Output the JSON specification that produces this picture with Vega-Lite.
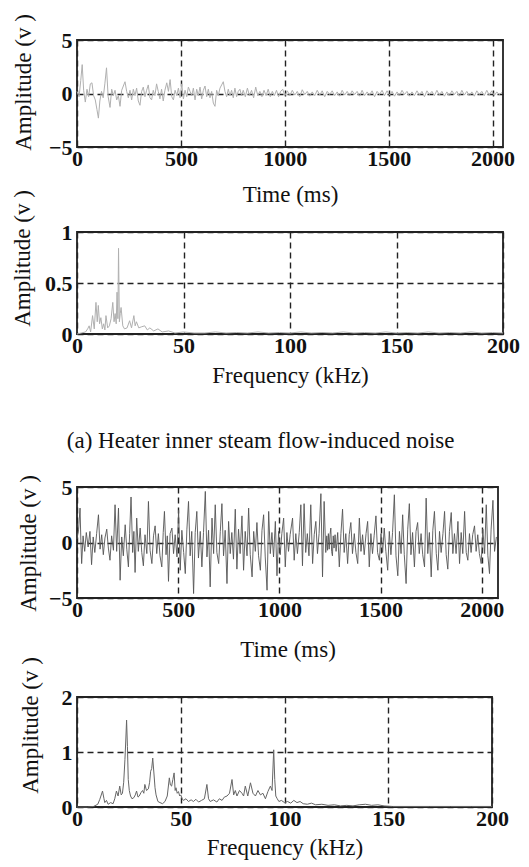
{
  "$schema": "https://vega.github.io/schema/vega-lite/v6.json",
  "background": "white",
  "padding": {"left": 10, "top": 12, "right": 5, "bottom": 5},
  "bounds": "flush",
  "spacing": 447,
  "config": {
    "font": "Liberation Serif",
    "view": {"stroke": "#222", "strokeWidth": 1.8},
    "axis": {
      "labelFont": "Liberation Serif", "labelFontSize": 22, "labelFontWeight": "bold", "labelColor": "#111",
      "titleFont": "Liberation Serif", "titleFontSize": 23, "titleFontWeight": "normal", "titleColor": "#111",
      "grid": true, "gridColor": "#222", "gridDash": [6, 4], "gridWidth": 1.4, "gridOpacity": 1,
      "ticks": false, "tickSize": 0, "domain": false, "labelOverlap": false, "labelFlush": false, "zindex": 1
    },
    "axisX": {"labelPadding": 1},
    "axisY": {"labelPadding": 5}
  },
  "datasets": {
    "t1": [
      {"t":0,"v":0.2},{"t":10,"v":-0.3},{"t":18,"v":1.2},{"t":25,"v":2.7},{"t":32,"v":0.3},{"t":40,"v":-0.8},{"t":48,"v":0.4},{"t":56,"v":-0.3},{"t":64,"v":0.9},{"t":72,"v":1.0},
      {"t":80,"v":-0.2},{"t":88,"v":-0.6},{"t":96,"v":-1.5},{"t":103,"v":-2.3},{"t":110,"v":-0.7},{"t":118,"v":0.2},{"t":126,"v":-0.4},{"t":134,"v":0.9},{"t":142,"v":2.4},{"t":150,"v":-0.3},
      {"t":159,"v":-1.3},{"t":167,"v":0.4},{"t":175,"v":-0.2},{"t":183,"v":0.3},{"t":191,"v":-0.6},{"t":199,"v":-0.2},{"t":207,"v":-1.2},{"t":215,"v":0.3},{"t":223,"v":0.7},{"t":231,"v":1.1},
      {"t":239,"v":0.2},{"t":247,"v":-0.4},{"t":255,"v":0.3},{"t":263,"v":-0.6},{"t":271,"v":0.4},{"t":279,"v":-0.2},{"t":287,"v":0.5},{"t":295,"v":-0.7},{"t":303,"v":-1.1},{"t":311,"v":0.2},
      {"t":319,"v":0.6},{"t":327,"v":-0.3},{"t":335,"v":0.3},{"t":343,"v":0.8},{"t":351,"v":-0.4},{"t":359,"v":-0.6},{"t":367,"v":0.3},{"t":375,"v":-0.2},{"t":383,"v":0.9},{"t":391,"v":0.2},
      {"t":399,"v":-0.5},{"t":407,"v":0.4},{"t":415,"v":-0.7},{"t":423,"v":0.3},{"t":432,"v":1.0},{"t":440,"v":0.2},{"t":448,"v":1.3},{"t":456,"v":-0.3},{"t":464,"v":-0.6},{"t":472,"v":0.3},
      {"t":480,"v":-0.2},{"t":488,"v":0.5},{"t":496,"v":-0.4},{"t":504,"v":0.9},{"t":512,"v":-0.5},{"t":520,"v":0.3},{"t":528,"v":-0.3},{"t":536,"v":0.6},{"t":544,"v":0.2},{"t":552,"v":-0.2},
      {"t":560,"v":0.5},{"t":568,"v":-0.6},{"t":576,"v":0.4},{"t":584,"v":-0.2},{"t":592,"v":0.6},{"t":600,"v":-0.5},{"t":608,"v":0.3},{"t":616,"v":0.7},{"t":624,"v":-0.3},{"t":632,"v":0.4},
      {"t":640,"v":-0.4},{"t":648,"v":0.2},{"t":656,"v":-0.9},{"t":664,"v":-1.2},{"t":672,"v":0.3},{"t":680,"v":-0.2},{"t":688,"v":0.5},{"t":696,"v":0.8},{"t":704,"v":1.1},{"t":712,"v":0.2},
      {"t":720,"v":-0.3},{"t":728,"v":0.4},{"t":736,"v":-0.2},{"t":744,"v":0.3},{"t":752,"v":-0.4},{"t":760,"v":0.5},{"t":768,"v":-0.3},{"t":776,"v":0.2},{"t":784,"v":0.4},{"t":792,"v":-0.2},
      {"t":800,"v":0.3},{"t":810,"v":-0.3},{"t":820,"v":0.5},{"t":830,"v":-0.2},{"t":840,"v":0.3},{"t":850,"v":-0.4},{"t":860,"v":0.6},{"t":870,"v":-0.2},{"t":880,"v":0.2},{"t":890,"v":-0.3},
      {"t":900,"v":0.3},{"t":910,"v":-0.2},{"t":920,"v":0.4},{"t":930,"v":-0.3},{"t":940,"v":0.2},{"t":950,"v":-0.2},{"t":960,"v":0.3},{"t":970,"v":-0.3},{"t":980,"v":0.2},{"t":990,"v":0.4},
      {"t":1000,"v":-0.2},{"t":1012,"v":0.25},{"t":1024,"v":-0.2},{"t":1036,"v":0.3},{"t":1048,"v":-0.15},{"t":1060,"v":0.2},{"t":1072,"v":-0.3},{"t":1084,"v":0.35},{"t":1096,"v":-0.1},{"t":1108,"v":0.2},
      {"t":1120,"v":-0.25},{"t":1132,"v":0.15},{"t":1144,"v":-0.2},{"t":1156,"v":0.3},{"t":1168,"v":-0.15},{"t":1180,"v":0.25},{"t":1192,"v":-0.3},{"t":1204,"v":0.2},{"t":1216,"v":-0.1},{"t":1228,"v":0.25},
      {"t":1240,"v":-0.2},{"t":1252,"v":0.15},{"t":1264,"v":-0.25},{"t":1276,"v":0.3},{"t":1288,"v":-0.15},{"t":1300,"v":0.2},{"t":1312,"v":-0.2},{"t":1324,"v":0.25},{"t":1336,"v":-0.1},{"t":1348,"v":0.2},
      {"t":1360,"v":-0.25},{"t":1372,"v":0.3},{"t":1384,"v":-0.2},{"t":1396,"v":0.15},{"t":1408,"v":-0.15},{"t":1420,"v":0.25},{"t":1432,"v":-0.3},{"t":1444,"v":0.2},{"t":1456,"v":-0.1},{"t":1468,"v":0.3},
      {"t":1480,"v":-0.2},{"t":1492,"v":0.25},{"t":1504,"v":-0.15},{"t":1516,"v":0.2},{"t":1528,"v":-0.25},{"t":1540,"v":0.15},{"t":1552,"v":-0.2},{"t":1564,"v":0.3},{"t":1576,"v":-0.1},{"t":1588,"v":0.2},
      {"t":1600,"v":-0.25},{"t":1612,"v":0.15},{"t":1624,"v":-0.2},{"t":1636,"v":0.25},{"t":1648,"v":-0.15},{"t":1660,"v":0.2},{"t":1672,"v":-0.3},{"t":1684,"v":0.25},{"t":1696,"v":-0.1},{"t":1708,"v":0.2},
      {"t":1720,"v":-0.2},{"t":1732,"v":0.3},{"t":1744,"v":-0.15},{"t":1756,"v":0.2},{"t":1768,"v":-0.25},{"t":1780,"v":0.15},{"t":1792,"v":-0.2},{"t":1804,"v":0.25},{"t":1816,"v":-0.1},{"t":1828,"v":0.2},
      {"t":1840,"v":-0.25},{"t":1852,"v":0.3},{"t":1864,"v":-0.15},{"t":1876,"v":0.2},{"t":1888,"v":-0.2},{"t":1900,"v":0.15},{"t":1912,"v":-0.25},{"t":1924,"v":0.25},{"t":1936,"v":-0.1},{"t":1948,"v":0.2},
      {"t":1960,"v":-0.2},{"t":1972,"v":0.3},{"t":1984,"v":-0.15},{"t":1996,"v":0.25},{"t":2008,"v":-0.2},{"t":2020,"v":0.15},{"t":2032,"v":-0.1},{"t":2044,"v":0.1}
    ],
    "f1": [
      {"f":0,"v":0},{"f":2,"v":0.01},{"f":4,"v":0.02},{"f":5,"v":0.05},{"f":5.7,"v":0.08},{"f":6.4,"v":0.02},{"f":7.3,"v":0.18},{"f":8.1,"v":0.05},{"f":8.9,"v":0.31},{"f":9.5,"v":0.12},
      {"f":10,"v":0.28},{"f":10.6,"v":0.1},{"f":11.2,"v":0.16},{"f":11.9,"v":0.05},{"f":12.5,"v":0.1},{"f":13.1,"v":0.04},{"f":13.6,"v":0.18},{"f":14.4,"v":0.06},{"f":15.2,"v":0.08},{"f":16,"v":0.15},
      {"f":16.8,"v":0.31},{"f":17.4,"v":0.12},{"f":17.9,"v":0.2},{"f":18.4,"v":0.1},{"f":18.8,"v":0.41},{"f":19.2,"v":0.15},{"f":19.5,"v":0.84},{"f":19.9,"v":0.12},{"f":20.3,"v":0.2},{"f":20.7,"v":0.26},
      {"f":21.5,"v":0.08},{"f":22.3,"v":0.05},{"f":23.5,"v":0.06},{"f":24.7,"v":0.13},{"f":25.6,"v":0.06},{"f":26.7,"v":0.18},{"f":27.3,"v":0.08},{"f":27.9,"v":0.12},{"f":29,"v":0.06},{"f":30.2,"v":0.07},
      {"f":31.8,"v":0.08},{"f":33,"v":0.04},{"f":34.2,"v":0.06},{"f":36,"v":0.03},{"f":38,"v":0.05},{"f":40,"v":0.02},{"f":43,"v":0.03},{"f":46,"v":0.01},{"f":50,"v":0.02},{"f":55,"v":0.01},
      {"f":60,"v":0.01},{"f":65,"v":0.02},{"f":70,"v":0.01},{"f":75,"v":0.015},{"f":80,"v":0.01},{"f":85,"v":0.02},{"f":90,"v":0.01},{"f":95,"v":0.015},{"f":100,"v":0.01},{"f":105,"v":0.02},
      {"f":110,"v":0.01},{"f":115,"v":0.015},{"f":120,"v":0.01},{"f":125,"v":0.02},{"f":130,"v":0.01},{"f":135,"v":0.015},{"f":140,"v":0.01},{"f":145,"v":0.02},{"f":150,"v":0.01},{"f":155,"v":0.015},
      {"f":160,"v":0.01},{"f":165,"v":0.02},{"f":170,"v":0.01},{"f":175,"v":0.015},{"f":180,"v":0.01},{"f":185,"v":0.02},{"f":190,"v":0.01},{"f":195,"v":0.015},{"f":200,"v":0.01}
    ],
    "t2": [
      {"t":0,"v":0.3},{"t":8,"v":1.2},{"t":15,"v":3.1},{"t":19,"v":0.2},{"t":23,"v":-1.9},{"t":30,"v":0.6},{"t":38,"v":-0.8},{"t":46,"v":0.9},{"t":55,"v":-0.4},{"t":64,"v":1.0},
      {"t":72,"v":-2.0},{"t":80,"v":0.5},{"t":88,"v":-0.9},{"t":97,"v":0.8},{"t":106,"v":2.5},{"t":114,"v":-0.6},{"t":122,"v":0.7},{"t":130,"v":-1.1},{"t":138,"v":0.4},{"t":147,"v":1.2},
      {"t":155,"v":-0.5},{"t":163,"v":-1.6},{"t":171,"v":0.6},{"t":180,"v":-0.7},{"t":188,"v":3.4},{"t":196,"v":-0.8},{"t":205,"v":3.1},{"t":213,"v":-3.4},{"t":221,"v":0.5},{"t":229,"v":-1.2},
      {"t":238,"v":1.6},{"t":246,"v":-0.6},{"t":254,"v":-2.2},{"t":260,"v":0.8},{"t":267,"v":4.1},{"t":275,"v":-0.9},{"t":281,"v":1.0},{"t":287,"v":-2.7},{"t":295,"v":2.2},{"t":303,"v":-0.8},
      {"t":312,"v":1.3},{"t":320,"v":-0.9},{"t":328,"v":-2.1},{"t":336,"v":0.7},{"t":345,"v":-1.0},{"t":353,"v":3.7},{"t":361,"v":-0.7},{"t":370,"v":-1.9},{"t":378,"v":0.6},{"t":386,"v":1.5},
      {"t":394,"v":-1.0},{"t":402,"v":0.8},{"t":410,"v":-1.2},{"t":419,"v":-2.2},{"t":426,"v":0.9},{"t":432,"v":2.8},{"t":440,"v":-1.1},{"t":446,"v":0.6},{"t":452,"v":-3.5},{"t":460,"v":0.8},
      {"t":469,"v":1.3},{"t":477,"v":-1.0},{"t":485,"v":0.7},{"t":494,"v":-1.3},{"t":502,"v":2.9},{"t":510,"v":-2.5},{"t":518,"v":1.1},{"t":527,"v":-0.9},{"t":535,"v":-2.8},{"t":543,"v":1.2},
      {"t":551,"v":3.7},{"t":559,"v":-1.2},{"t":567,"v":1.0},{"t":576,"v":-4.6},{"t":584,"v":0.9},{"t":592,"v":2.8},{"t":600,"v":-1.4},{"t":609,"v":1.0},{"t":617,"v":-2.2},{"t":625,"v":0.9},
      {"t":634,"v":4.6},{"t":642,"v":-1.3},{"t":650,"v":1.1},{"t":658,"v":-4.0},{"t":667,"v":2.2},{"t":675,"v":-1.0},{"t":683,"v":3.4},{"t":691,"v":-0.9},{"t":700,"v":-1.9},{"t":708,"v":1.0},
      {"t":716,"v":3.5},{"t":724,"v":-1.2},{"t":732,"v":1.1},{"t":741,"v":-3.7},{"t":749,"v":1.9},{"t":757,"v":-1.0},{"t":765,"v":0.9},{"t":773,"v":-1.5},{"t":782,"v":3.0},{"t":790,"v":-2.4},
      {"t":798,"v":1.2},{"t":806,"v":-1.0},{"t":815,"v":2.4},{"t":823,"v":-2.5},{"t":831,"v":1.0},{"t":840,"v":-1.2},{"t":848,"v":3.1},{"t":856,"v":-1.1},{"t":865,"v":-3.1},{"t":873,"v":1.0},
      {"t":881,"v":-0.8},{"t":889,"v":1.8},{"t":897,"v":-1.2},{"t":906,"v":-2.5},{"t":914,"v":1.1},{"t":922,"v":2.5},{"t":930,"v":-1.3},{"t":939,"v":-4.3},{"t":947,"v":2.8},{"t":955,"v":-1.0},
      {"t":963,"v":0.9},{"t":971,"v":-1.3},{"t":980,"v":1.9},{"t":988,"v":-3.0},{"t":996,"v":1.0},{"t":1004,"v":-1.1},{"t":1012,"v":0.8},{"t":1021,"v":2.2},{"t":1029,"v":-2.2},{"t":1037,"v":0.9},
      {"t":1045,"v":-0.8},{"t":1053,"v":0.7},{"t":1065,"v":2.2},{"t":1073,"v":-1.6},{"t":1081,"v":0.8},{"t":1089,"v":-1.0},{"t":1098,"v":0.9},{"t":1106,"v":3.4},{"t":1114,"v":-2.1},{"t":1122,"v":3.5},
      {"t":1130,"v":-0.9},{"t":1138,"v":0.8},{"t":1146,"v":-1.2},{"t":1155,"v":3.4},{"t":1164,"v":-1.9},{"t":1172,"v":0.7},{"t":1180,"v":1.9},{"t":1188,"v":-1.0},{"t":1196,"v":0.8},{"t":1205,"v":4.4},
      {"t":1213,"v":-3.1},{"t":1221,"v":3.7},{"t":1229,"v":-0.9},{"t":1234,"v":0.6},{"t":1238,"v":-0.7},{"t":1242,"v":0.8},{"t":1246,"v":-0.6},{"t":1250,"v":0.7},{"t":1254,"v":1.3},{"t":1258,"v":-0.8},
      {"t":1262,"v":-1.2},{"t":1266,"v":0.6},{"t":1270,"v":-0.5},{"t":1275,"v":0.7},{"t":1280,"v":-0.8},{"t":1288,"v":0.9},{"t":1296,"v":-2.2},{"t":1304,"v":0.8},{"t":1312,"v":3.0},{"t":1320,"v":-0.9},
      {"t":1328,"v":0.8},{"t":1337,"v":-1.9},{"t":1345,"v":0.7},{"t":1353,"v":1.8},{"t":1361,"v":-1.0},{"t":1370,"v":0.8},{"t":1378,"v":-0.9},{"t":1387,"v":-1.9},{"t":1395,"v":2.2},{"t":1403,"v":-0.8},
      {"t":1411,"v":0.7},{"t":1419,"v":-1.1},{"t":1428,"v":0.8},{"t":1436,"v":1.9},{"t":1444,"v":-2.2},{"t":1452,"v":0.8},{"t":1460,"v":-1.0},{"t":1468,"v":0.6},{"t":1477,"v":2.4},{"t":1485,"v":-0.9},
      {"t":1494,"v":-1.6},{"t":1502,"v":0.8},{"t":1510,"v":-0.9},{"t":1518,"v":1.3},{"t":1526,"v":-0.8},{"t":1535,"v":-2.5},{"t":1543,"v":1.0},{"t":1551,"v":-1.1},{"t":1559,"v":0.9},{"t":1568,"v":4.3},
      {"t":1576,"v":-1.2},{"t":1585,"v":-3.0},{"t":1593,"v":1.0},{"t":1601,"v":-1.0},{"t":1609,"v":2.5},{"t":1617,"v":-1.1},{"t":1626,"v":-3.7},{"t":1634,"v":1.2},{"t":1642,"v":3.5},{"t":1650,"v":-1.1},
      {"t":1658,"v":0.9},{"t":1667,"v":-2.2},{"t":1675,"v":1.0},{"t":1683,"v":1.8},{"t":1691,"v":-1.0},{"t":1700,"v":0.8},{"t":1708,"v":-1.1},{"t":1717,"v":-2.2},{"t":1725,"v":4.0},{"t":1733,"v":-1.0},
      {"t":1741,"v":0.9},{"t":1750,"v":-3.1},{"t":1758,"v":1.1},{"t":1766,"v":2.8},{"t":1775,"v":-1.0},{"t":1783,"v":-2.5},{"t":1791,"v":1.0},{"t":1799,"v":-0.9},{"t":1808,"v":0.8},{"t":1816,"v":2.8},
      {"t":1824,"v":-1.1},{"t":1832,"v":-2.4},{"t":1840,"v":1.0},{"t":1849,"v":2.7},{"t":1857,"v":-1.0},{"t":1865,"v":0.8},{"t":1873,"v":-1.0},{"t":1882,"v":1.9},{"t":1890,"v":-1.9},{"t":1898,"v":0.9},
      {"t":1906,"v":-1.0},{"t":1915,"v":2.8},{"t":1923,"v":-0.9},{"t":1931,"v":-1.6},{"t":1939,"v":0.8},{"t":1947,"v":-0.9},{"t":1955,"v":0.7},{"t":1964,"v":1.5},{"t":1972,"v":-0.8},{"t":1980,"v":0.7},
      {"t":1988,"v":-1.0},{"t":1997,"v":-1.9},{"t":2005,"v":1.2},{"t":2014,"v":-1.0},{"t":2022,"v":3.4},{"t":2030,"v":-1.2},{"t":2038,"v":-2.8},{"t":2046,"v":1.2},{"t":2055,"v":3.8},{"t":2063,"v":-0.8},
      {"t":2072,"v":0.5}
    ],
    "f2": [
      {"f":0,"v":0},{"f":5,"v":0},{"f":8,"v":0.01},{"f":10,"v":0.05},{"f":11,"v":0.14},{"f":12.3,"v":0.29},{"f":13,"v":0.15},{"f":13.4,"v":0.08},{"f":14.2,"v":0.12},{"f":15,"v":0.05},
      {"f":16.2,"v":0.08},{"f":17.4,"v":0.06},{"f":18.2,"v":0.15},{"f":19,"v":0.29},{"f":19.8,"v":0.2},{"f":20.6,"v":0.38},{"f":21.3,"v":0.22},{"f":21.9,"v":0.25},{"f":22.5,"v":0.45},{"f":23.1,"v":0.86},
      {"f":23.5,"v":1.2},{"f":23.9,"v":1.58},{"f":24.3,"v":1.1},{"f":24.7,"v":0.5},{"f":25.2,"v":0.3},{"f":25.8,"v":0.2},{"f":26.5,"v":0.15},{"f":27.4,"v":0.17},{"f":28.1,"v":0.22},{"f":28.7,"v":0.29},
      {"f":29.4,"v":0.18},{"f":30,"v":0.2},{"f":30.8,"v":0.26},{"f":31.6,"v":0.3},{"f":32.2,"v":0.25},{"f":32.7,"v":0.41},{"f":33.5,"v":0.3},{"f":34.4,"v":0.33},{"f":35,"v":0.45},{"f":35.5,"v":0.65},
      {"f":36,"v":0.7},{"f":36.5,"v":0.89},{"f":37.1,"v":0.6},{"f":37.6,"v":0.35},{"f":38.1,"v":0.22},{"f":39,"v":0.1},{"f":40,"v":0.08},{"f":41.2,"v":0.06},{"f":42.4,"v":0.1},{"f":43.5,"v":0.2},
      {"f":44.5,"v":0.53},{"f":45,"v":0.4},{"f":45.6,"v":0.38},{"f":46.2,"v":0.5},{"f":46.8,"v":0.62},{"f":47.3,"v":0.3},{"f":47.7,"v":0.35},{"f":48.3,"v":0.25},{"f":48.9,"v":0.28},{"f":49.5,"v":0.2},
      {"f":50,"v":0.22},{"f":50.7,"v":0.15},{"f":51.3,"v":0.12},{"f":52.5,"v":0.15},{"f":53.7,"v":0.1},{"f":55,"v":0.13},{"f":56.1,"v":0.1},{"f":57.3,"v":0.14},{"f":58.6,"v":0.09},{"f":60,"v":0.12},
      {"f":61.4,"v":0.15},{"f":62.6,"v":0.41},{"f":63.4,"v":0.15},{"f":64.2,"v":0.1},{"f":65.8,"v":0.13},{"f":67.4,"v":0.09},{"f":68.6,"v":0.15},{"f":69.9,"v":0.12},{"f":71,"v":0.18},{"f":72.3,"v":0.2},
      {"f":73.5,"v":0.25},{"f":74.7,"v":0.5},{"f":75.5,"v":0.22},{"f":76.3,"v":0.3},{"f":77.1,"v":0.2},{"f":78.3,"v":0.3},{"f":79.5,"v":0.25},{"f":80.3,"v":0.2},{"f":81.1,"v":0.38},{"f":82.3,"v":0.2},
      {"f":83.6,"v":0.44},{"f":84.8,"v":0.25},{"f":86,"v":0.2},{"f":87.2,"v":0.3},{"f":88.4,"v":0.22},{"f":89.6,"v":0.25},{"f":90.8,"v":0.15},{"f":92,"v":0.28},{"f":93.2,"v":0.38},{"f":94,"v":0.3},
      {"f":94.8,"v":1.04},{"f":95.3,"v":0.5},{"f":95.8,"v":0.2},{"f":96.5,"v":0.15},{"f":97.3,"v":0.1},{"f":98.5,"v":0.12},{"f":100,"v":0.08},{"f":101.5,"v":0.1},{"f":103,"v":0.07},{"f":104.5,"v":0.12},
      {"f":106,"v":0.08},{"f":107.5,"v":0.1},{"f":109,"v":0.06},{"f":111,"v":0.05},{"f":113,"v":0.07},{"f":115,"v":0.04},{"f":118,"v":0.05},{"f":121,"v":0.03},{"f":124,"v":0.04},{"f":127,"v":0.02},
      {"f":130,"v":0.03},{"f":133,"v":0.02},{"f":136,"v":0.04},{"f":139,"v":0.05},{"f":142,"v":0.03},{"f":145,"v":0.04},{"f":148,"v":0.02},{"f":152,"v":0.01},{"f":160,"v":0.01},{"f":170,"v":0.01},
      {"f":180,"v":0.01},{"f":190,"v":0.01},{"f":200,"v":0.01}
    ]
  },
  "vconcat": [
    {
      "bounds": "flush",
      "spacing": 85,
      "vconcat": [
        {
          "width": 426, "height": 107,
          "data": {"name": "t1"},
          "mark": {"type": "line", "color": "#b0b0b0", "strokeWidth": 1},
          "encoding": {
            "x": {"field": "t", "type": "quantitative", "scale": {"domain": [0, 2050], "nice": false},
                  "axis": {"title": "Time (ms)", "values": [0, 500, 1000, 1500, 2000], "format": "d", "titlePadding": 14}},
            "y": {"field": "v", "type": "quantitative", "scale": {"domain": [-5, 5], "nice": false},
                  "axis": {"title": "Amplitude (v )", "values": [-5, 0, 5], "format": "~g", "titlePadding": 13, "titleY": 42}}
          }
        },
        {
          "width": 426, "height": 102,
          "data": {"name": "f1"},
          "mark": {"type": "line", "color": "#b0b0b0", "strokeWidth": 1},
          "encoding": {
            "x": {"field": "f", "type": "quantitative", "scale": {"domain": [0, 200], "nice": false},
                  "axis": {"title": "Frequency (kHz)", "values": [0, 50, 100, 150, 200], "format": "d", "titlePadding": 8}},
            "y": {"field": "v", "type": "quantitative", "scale": {"domain": [0, 1], "nice": false},
                  "axis": {"title": "Amplitude (v )", "values": [0, 0.5, 1], "format": "~g", "titlePadding": 10, "titleY": 26}}
          }
        }
      ]
    },
    {
      "bounds": "flush",
      "spacing": 99,
      "vconcat": [
        {
          "width": 421, "height": 111,
          "title": {"text": "(a) Heater inner steam flow-induced noise", "frame": "bounds", "anchor": "middle", "orient": "top",
                    "offset": 22, "font": "Liberation Serif", "fontSize": 23, "fontWeight": "normal", "color": "#111"},
          "data": {"name": "t2"},
          "mark": {"type": "line", "color": "#555555", "strokeWidth": 0.9},
          "encoding": {
            "x": {"field": "t", "type": "quantitative", "scale": {"domain": [0, 2080], "nice": false},
                  "axis": {"title": "Time (ms)", "values": [0, 500, 1000, 1500, 2000], "format": "d", "titlePadding": 18}},
            "y": {"field": "v", "type": "quantitative", "scale": {"domain": [-5, 5], "nice": false},
                  "axis": {"title": "Amplitude (v )", "values": [-5, 0, 5], "format": "~g", "titlePadding": 8, "titleY": 56}}
          }
        },
        {
          "width": 415, "height": 110,
          "data": {"name": "f2"},
          "mark": {"type": "line", "color": "#666666", "strokeWidth": 1},
          "encoding": {
            "x": {"field": "f", "type": "quantitative", "scale": {"domain": [0, 200], "nice": false},
                  "axis": {"title": "Frequency (kHz)", "values": [0, 50, 100, 150, 200], "format": "d", "titlePadding": 7}},
            "y": {"field": "v", "type": "quantitative", "scale": {"domain": [0, 2], "nice": false},
                  "axis": {"title": "Amplitude (v )", "values": [0, 1, 2], "format": "~g", "titlePadding": 19, "titleY": 28}}
          }
        }
      ]
    }
  ]
}
